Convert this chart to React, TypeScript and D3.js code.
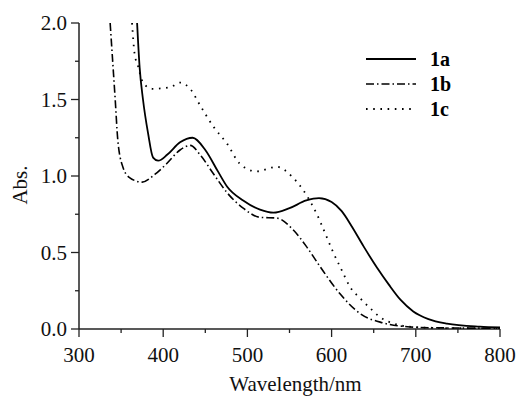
import React from "react";
import * as d3 from "d3";

const xTicks = [300, 400, 500, 600, 700, 800];
const yTicks = [0.0, 0.5, 1.0, 1.5, 2.0];
const xMinor = [350, 450, 550, 650, 750];
const yMinor = [0.25, 0.75, 1.25, 1.75];

const seriesNames = ["1a", "1b", "1c"];

const wl1a = [369, 372, 376, 382, 388, 394, 405, 420, 435, 450, 465, 476, 495, 515, 531, 550, 570, 585, 600, 612, 624, 638, 654, 668, 682, 697, 715, 737, 776, 800];
const abs1a = [2.0, 1.71, 1.5, 1.28, 1.12, 1.1, 1.14, 1.22, 1.25, 1.17, 1.03, 0.93, 0.84, 0.78, 0.76, 0.79, 0.84, 0.855, 0.83, 0.77, 0.67, 0.54, 0.4, 0.29, 0.19, 0.115, 0.065, 0.035, 0.015, 0.01];

const wl1b = [337, 340, 343, 346, 352, 360, 375, 390, 404, 420, 432, 445, 459, 476, 495, 515, 535, 554, 570, 586, 610, 634, 661, 690, 720, 800];
const abs1b = [2.0, 1.75, 1.5, 1.24, 1.06, 0.99, 0.96, 1.01, 1.08, 1.17, 1.2, 1.13, 1.02, 0.89, 0.79, 0.73, 0.725, 0.65, 0.54, 0.41, 0.23, 0.1, 0.04, 0.015, 0.008, 0.005];

const wl1c = [363, 366, 370, 376, 387, 408, 420, 432, 444, 460, 476, 491, 511, 535, 554, 566, 577, 583, 592, 602, 612, 622, 634, 645, 657, 677, 700, 740, 800];
const abs1c = [2.0, 1.8, 1.72, 1.61, 1.57, 1.58, 1.61, 1.57, 1.46, 1.32, 1.21, 1.08, 1.03, 1.06, 0.99, 0.91, 0.81, 0.745, 0.63, 0.5, 0.385, 0.275, 0.2, 0.14, 0.08, 0.03, 0.012, 0.006, 0.004];

const W = 518;
const H = 396;
const left = 79;
const right = 500;
const top = 23;
const bottom = 329;
const FONT = '"Liberation Serif", "Times New Roman", Times, "DejaVu Serif", serif';
const AX = "#222";

export default function App() {
  const x = d3.scaleLinear().domain([300, 800]).range([left, right]);
  const y = d3.scaleLinear().domain([0, 2]).range([bottom, top]);
  const line = d3
    .line<[number, number]>()
    .x((d) => x(d[0]))
    .y((d) => y(d[1]))
    .curve(d3.curveMonotoneX);

  const mk = (w: number[], a: number[]) => w.map((v, i) => [v, a[i]] as [number, number]);
  const series = [
    { name: seriesNames[0], d: mk(wl1a, abs1a), dash: undefined as string | undefined, sw: 1.8 },
    { name: seriesNames[1], d: mk(wl1b, abs1b), dash: "8 3 1.5 3", sw: 1.6 },
    { name: seriesNames[2], d: mk(wl1c, abs1c), dash: "1.6 5.6", sw: 1.8 },
  ];

  const txt = { fontFamily: FONT, fontSize: "21px" };

  return (
    <svg width={W} height={H} style={{ position: "absolute", left: 0, top: 0, background: "#fff" }}>
      <defs>
        <clipPath id="plot">
          <rect x={left} y={top - 1} width={right - left + 2} height={bottom - top + 1} />
        </clipPath>
      </defs>
      <line x1={left} x2={left} y1={top} y2={bottom} stroke={AX} strokeWidth={1.5} />
      <line x1={left} x2={right} y1={bottom} y2={bottom} stroke={AX} strokeWidth={1.5} />
      {yTicks.map((t) => (
        <g key={"y" + t}>
          <line x1={left - 8} x2={left} y1={y(t)} y2={y(t)} stroke={AX} strokeWidth={1.3} />
          <text x={left - 12} y={y(t) + 7} style={txt} textAnchor="end" fill="#111">
            {t.toFixed(1)}
          </text>
        </g>
      ))}
      {yMinor.map((t) => (
        <line key={"ym" + t} x1={left - 4} x2={left} y1={y(t)} y2={y(t)} stroke={AX} strokeWidth={1.3} />
      ))}
      {xTicks.map((t) => (
        <g key={"x" + t}>
          <line x1={x(t)} x2={x(t)} y1={bottom} y2={bottom + 8} stroke={AX} strokeWidth={1.3} />
          <text x={x(t)} y={362} style={txt} textAnchor="middle" fill="#111">
            {t}
          </text>
        </g>
      ))}
      {xMinor.map((t) => (
        <line key={"xm" + t} x1={x(t)} x2={x(t)} y1={bottom} y2={bottom + 4} stroke={AX} strokeWidth={1.3} />
      ))}
      <text x={(228 + 363) / 2} y={391} style={txt} textAnchor="middle" fill="#111">
        Wavelength/nm
      </text>
      <text transform={`translate(27,185) rotate(-90)`} style={txt} textAnchor="middle" fill="#111">
        Abs.
      </text>
      <g clipPath="url(#plot)">
        {series.map((s) => (
          <path
            key={s.name}
            d={line(s.d) || ""}
            fill="none"
            stroke="#000"
            strokeWidth={s.sw}
            strokeDasharray={s.dash}
          />
        ))}
      </g>
      {series.map((s, i) => (
        <g key={"lg" + s.name}>
          <line
            x1={366}
            x2={416}
            y1={59 + i * 25}
            y2={59 + i * 25}
            stroke="#000"
            strokeWidth={s.sw}
            strokeDasharray={s.dash}
          />
          <text x={430} y={66 + i * 25} style={{ fontFamily: FONT, fontSize: "20px", fontWeight: "bold" }} fill="#000">
            {s.name}
          </text>
        </g>
      ))}
    </svg>
  );
}
